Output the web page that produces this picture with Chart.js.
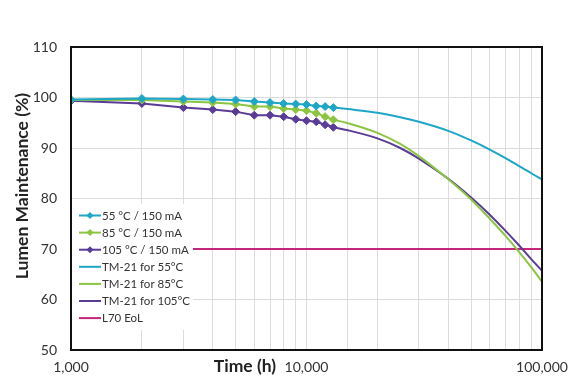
<!DOCTYPE html>
<html>
<head>
<meta charset="utf-8">
<script src="https://cdn.jsdelivr.net/npm/chart.js@4.4.1/dist/chart.umd.min.js"></script>
<style>
  html, body { margin: 0; padding: 0; background: #fff; }
  #wrap { width: 571px; height: 380px; position: relative; }
</style>
</head>
<body>
<div id="wrap"><canvas id="lmChart" width="571" height="380"></canvas></div>
<script>
// Medições (horas)
const hours = [1000, 2000, 3000, 4000, 5000, 6000, 7000, 8000, 9000, 10000, 11000, 12000, 13000];
const lm55 = [99.6, 99.8, 99.7, 99.6, 99.5, 99.2, 99.0, 98.8, 98.7, 98.6, 98.3, 98.2, 98.0];
const lm85 = [99.5, 99.5, 99.2, 99.0, 98.7, 98.2, 98.2, 97.8, 97.6, 97.4, 96.9, 96.2, 95.6];
const lm105 = [99.35, 98.8, 98.0, 97.6, 97.2, 96.5, 96.5, 96.2, 95.7, 95.4, 95.2, 94.6, 94.1];

// Projeções TM-21
const tmHours = [13000, 15000, 20000, 25000, 30000, 40000, 50000, 60000, 70000, 80000, 90000, 100000];
const tm55 = [98.0, 97.7, 97.0, 96.1, 95.2, 93.4, 91.5, 89.7, 88.0, 86.4, 85.0, 83.8];
const tm85 = [95.6, 94.9, 93.0, 90.8, 88.4, 83.8, 79.8, 76.0, 72.6, 69.4, 66.4, 63.5];
const tm105 = [94.1, 93.5, 91.9, 90.0, 87.9, 83.9, 80.2, 76.8, 73.6, 70.7, 68.0, 65.7];

// Limite L70
const l70Hours = [1000, 100000];
const l70 = [70, 70];

// Eixos
const xLabelTicks = [1000, 10000, 100000];
const yMin = 50, yMax = 110, yStep = 10;
const xTitle = "Time (h)";
const yTitle = "Lumen Maintenance (%)";

const colors = {
  c55: "#1ea6c6",
  c85: "#8cc540",
  c105: "#5a3c96",
  l70: "#c4267c",
};

function pts(xs, ys) {
  return xs.map((x, i) => ({ x: x, y: ys[i] }));
}

function dataSeries(label, ys, color) {
  return {
    label: label,
    data: pts(hours, ys),
    borderColor: color,
    backgroundColor: color,
    borderWidth: 2,
    pointStyle: "rectRot",
    pointRadius: 4,
    pointBorderWidth: 1,
    pointBackgroundColor: color,
    tension: 0,
    marker: true,
  };
}

function tmSeries(label, xs, ys, color) {
  return {
    label: label,
    data: pts(xs, ys),
    borderColor: color,
    backgroundColor: color,
    borderWidth: 2,
    pointRadius: 0,
    cubicInterpolationMode: "monotone",
    marker: false,
  };
}

// Legenda dentro da área do gráfico (caixa branca)
const boxLegend = {
  id: "boxLegend",
  afterDatasetsDraw(chart) {
    const ctx = chart.ctx;
    const a = chart.chartArea;
    const left = a.left + 1, top = a.top + 157;
    ctx.save();
    ctx.fillStyle = "#fff";
    ctx.fillRect(left, top, 121, 126);
    ctx.font = "11.5px Lato, 'Open Sans', sans-serif";
    ctx.textBaseline = "middle";
    chart.data.datasets.forEach((ds, i) => {
      const y = top + 11.5 + i * 17.1;
      ctx.strokeStyle = ds.borderColor;
      ctx.lineWidth = 2;
      ctx.beginPath();
      ctx.moveTo(left + 7, y);
      ctx.lineTo(left + 29, y);
      ctx.stroke();
      if (ds.marker) {
        ctx.fillStyle = ds.borderColor;
        ctx.beginPath();
        ctx.moveTo(left + 18, y - 3.5);
        ctx.lineTo(left + 21.5, y);
        ctx.lineTo(left + 18, y + 3.5);
        ctx.lineTo(left + 14.5, y);
        ctx.closePath();
        ctx.fill();
      }
      ctx.fillStyle = "#333";
      ctx.textAlign = "left";
      ctx.fillText(ds.label, left + 30, y + 0.5);
    });
    ctx.restore();
  },
  afterDraw(chart) {
    const ctx = chart.ctx;
    const a = chart.chartArea;
    ctx.save();
    ctx.strokeStyle = "#111";
    ctx.lineWidth = 2;
    ctx.strokeRect(a.left, a.top, a.right - a.left, a.bottom - a.top);
    // Títulos dos eixos
    ctx.fillStyle = "#222";
    ctx.font = "bold 17.5px Lato, 'Open Sans', sans-serif";
    ctx.textAlign = "center";
    ctx.textBaseline = "middle";
    ctx.fillText(xTitle, 245, a.bottom + 16);
    ctx.translate(22, 186);
    ctx.rotate(-Math.PI / 2);
    ctx.fillText(yTitle, 0, 0);
    ctx.restore();
  },
};

const ctx = document.getElementById("lmChart").getContext("2d");
new Chart(ctx, {
  type: "line",
  data: {
    datasets: [
      dataSeries("55 °C / 150 mA", lm55, colors.c55),
      dataSeries("85 °C / 150 mA", lm85, colors.c85),
      dataSeries("105 °C / 150 mA", lm105, colors.c105),
      tmSeries("TM-21 for 55°C", tmHours, tm55, colors.c55),
      tmSeries("TM-21 for 85°C", tmHours, tm85, colors.c85),
      tmSeries("TM-21 for 105°C", tmHours, tm105, colors.c105),
      tmSeries("L70 EoL", l70Hours, l70, colors.l70),
    ],
  },
  options: {
    responsive: false,
    animation: false,
    layout: { padding: { top: 47, right: 29, bottom: 0, left: 0 } },
    scales: {
      x: {
        type: "logarithmic",
        min: 1000,
        max: 100000,
        afterFit: (s) => { s.height = 30; s.paddingLeft = 0; s.paddingRight = 0; },
        grid: { color: "#dcdcdc", lineWidth: 1, drawTicks: false },
        border: { display: false },
        ticks: {
          autoSkip: false,
          maxRotation: 0,
          padding: 9,
          color: "#333",
          font: { family: "Lato, 'Open Sans', sans-serif", size: 14 },
          callback: function (value) {
            return xLabelTicks.includes(value) ? value.toLocaleString("en-US") : "";
          },
        },
      },
      y: {
        min: yMin,
        max: yMax,
        afterFit: (s) => { s.width = 71; },
        grid: { color: "#dcdcdc", lineWidth: 1, drawTicks: false },
        border: { display: false },
        ticks: {
          stepSize: yStep,
          padding: 14,
          color: "#333",
          font: { family: "Lato, 'Open Sans', sans-serif", size: 14 },
        },
      },
    },
    plugins: {
      legend: { display: false },
      tooltip: { enabled: false },
    },
  },
  plugins: [boxLegend],
});
</script>
</body>
</html>
